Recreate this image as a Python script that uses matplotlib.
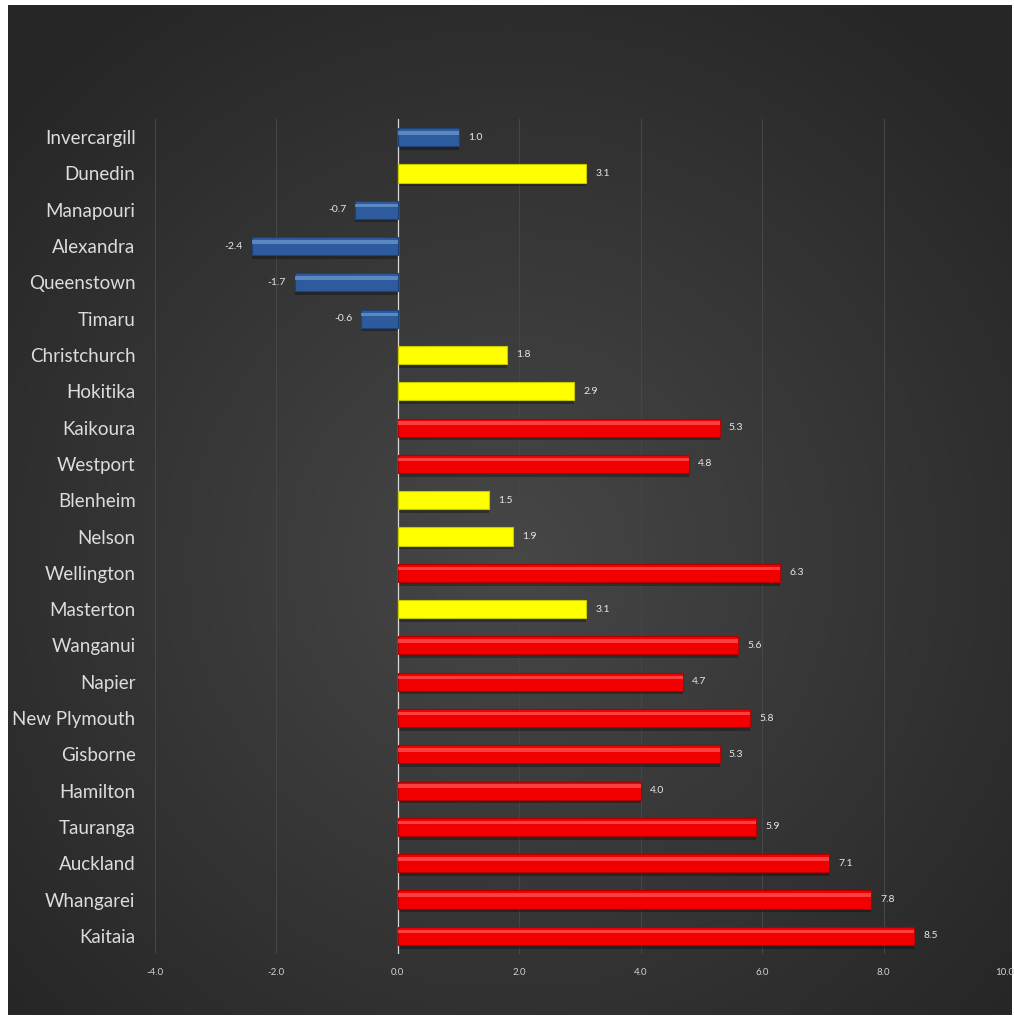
import numpy as np
import matplotlib
matplotlib.use("Agg")
import matplotlib.pyplot as plt
from matplotlib.colors import LinearSegmentedColormap

# data, top to bottom as in the chart
towns = ["Invercargill", "Dunedin", "Manapouri", "Alexandra", "Queenstown", "Timaru",
         "Christchurch", "Hokitika", "Kaikoura", "Westport", "Blenheim", "Nelson",
         "Wellington", "Masterton", "Wanganui", "Napier", "New Plymouth", "Gisborne",
         "Hamilton", "Tauranga", "Auckland", "Whangarei", "Kaitaia"]
values = [1.0, 3.1, -0.7, -2.4, -1.7, -0.6,
          1.8, 2.9, 5.3, 4.8, 1.5, 1.9,
          6.3, 3.1, 5.6, 4.7, 5.8, 5.3,
          4.0, 5.9, 7.1, 7.8, 8.5]
groups = ["blue", "yellow", "blue", "blue", "blue", "blue",
          "yellow", "yellow", "red", "red", "yellow", "yellow",
          "red", "yellow", "red", "red", "red", "red",
          "red", "red", "red", "red", "red"]
xticks = [-4.0, -2.0, 0.0, 2.0, 4.0, 6.0, 8.0, 10.0]

base = {"blue": "#2d5b9d", "yellow": "#ffff00", "red": "#f20000"}
edge = {"blue": "#1f4275", "yellow": "#c8c800", "red": "#b00000"}
shine = {"blue": "#6f9bd4", "yellow": "#ffff00", "red": "#ff5a5a"}

W, H = 1014, 1021
fig = plt.figure(figsize=(W / 100, H / 100), dpi=100, facecolor="white")

# dark radial background panel
bg = fig.add_axes([8 / W, 6 / H, 1004 / W, 1010 / H])
yy, xx = np.mgrid[-1:1:300j, -1:1:300j]
r = np.sqrt(xx ** 2 + (yy - 0.1) ** 2)
dark = LinearSegmentedColormap.from_list("bgc", ["#474747", "#262626"])
bg.imshow(np.clip(r / 1.35, 0, 1), cmap=dark, vmin=0, vmax=1, aspect="auto",
          extent=[0, 1, 0, 1])
bg.axis("off")

ax = fig.add_axes([155 / W, 1 - 954 / H, (1005 - 155) / W, (954 - 119) / H])
ax.patch.set_alpha(0)
ypos = np.arange(len(towns))
cols = [base[g] for g in groups]
edges = [edge[g] for g in groups]

# soft shadow, body, highlight
ax.barh(ypos + 0.1, values, height=0.5, color="black", alpha=0.3, zorder=2)
ax.barh(ypos, values, height=0.5, color=cols, edgecolor=edges, linewidth=0.8, zorder=3)
for i, g in enumerate(groups):
    if g != "yellow":
        ax.barh(ypos[i] - 0.12, values[i], height=0.1, color=shine[g], alpha=0.7,
                linewidth=0, zorder=4)

for i, v in enumerate(values):
    if v >= 0:
        ax.text(v + 0.15, ypos[i], f"{v:.1f}", va="center", ha="left",
                color="#e8e8e8", fontsize=7.5, family="Lato", zorder=5)
    else:
        ax.text(v - 0.15, ypos[i], f"{v:.1f}", va="center", ha="right",
                color="#e8e8e8", fontsize=7.5, family="Lato", zorder=5)

ax.set_xlim(-4, 10)
ax.set_ylim(len(towns) - 0.5, -0.5)
ax.set_yticks(ypos)
ax.set_yticklabels(towns, fontsize=13.5, family="Lato", color="#dcdcdc")
ax.set_xticks(xticks)
ax.set_xticklabels([f"{t:.1f}" for t in xticks], fontsize=7, family="Lato", color="#d0d0d0")
ax.tick_params(axis="both", length=0)
ax.tick_params(axis="y", pad=14)
ax.tick_params(axis="x", pad=10)
for s in ax.spines.values():
    s.set_visible(False)
ax.grid(axis="x", color="#464646", linewidth=0.8, zorder=0)
ax.set_axisbelow(True)
ax.axvline(0, color="#d8d8d8", linewidth=0.9, zorder=2.5)

fig.savefig("out.png", dpi=100, facecolor="white")
